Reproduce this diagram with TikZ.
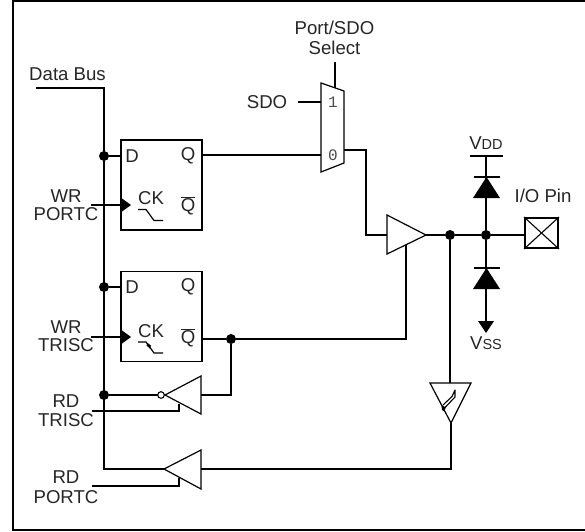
\documentclass[tikz,border=0pt]{standalone}
\usepackage{fontspec}
\setmainfont{Liberation Sans}
\newfontfamily\monof{Liberation Mono}
\tikzset{
  wire/.style={line width=1.8pt},
  junction/.style={circle,fill=black,inner sep=0pt,minimum size=10pt},
  lbl/.style={font=\fontsize{18.6}{20}\selectfont,inner sep=0pt,text=black!85,anchor=center},
  mlbl/.style={font=\monof\fontsize{16}{18}\selectfont,inner sep=0pt,text=black!70,anchor=center},
  ffbox/.style={draw,line width=1.8pt,minimum width=81pt,minimum height=90pt,inner sep=0pt,anchor=north west},
  pinbox/.style={draw,line width=1.8pt,minimum width=33pt,minimum height=30pt,inner sep=0pt,anchor=center},
  gate/.style={draw,line width=1.2pt,fill=white,line join=miter},
}
\begin{document}
\begin{tikzpicture}[x=1pt,y=-1pt]
\useasboundingbox (0,0) rectangle (585,531);
\fill[white] (0,0) rectangle (585,531);
\draw[line width=2pt] (585,1) -- (13,1) -- (13,530) -- (585,530);

% flip-flops
\node[ffbox] (ffa) at (120,139) {};
\node[ffbox] (ffb) at (120,270.5) {};

% junctions
\node[junction] (j1) at (104,156) {};
\node[junction] (j2) at (104,287) {};
\node[junction] (j3) at (104,395) {};
\node[junction] (j4) at (231,339) {};
\node[junction] (j5) at (450,235) {};
\node[junction] (j6) at (486,235) {};

% coordinates
\coordinate (busstart) at (36,88);
\coordinate (buscorner) at (104,88);
\coordinate (busend) at (104,469);
\coordinate (bufrtip) at (164,469);
\coordinate (bufrbase) at (201,469);
\coordinate (rdpcorner) at (451,469);
\coordinate (sttip) at (451,423);
\coordinate (stbase) at (450,383);
\coordinate (ffaD) at (120,156);
\coordinate (ffbD) at (120,287);
\coordinate (ffaQ) at (201,155);
\coordinate (ffbQ) at (201,339);
\coordinate (muxin0) at (321,155);
\coordinate (muxin1) at (321,102);
\coordinate (sdostart) at (298,102);
\coordinate (selstart) at (335,62);
\coordinate (selend) at (335,88);
\coordinate (muxout) at (344,150);
\coordinate (c1) at (366,150);
\coordinate (c2) at (366,235);
\coordinate (drvin) at (387,235);
\coordinate (drvtip) at (426,235);
\coordinate (drven) at (406,245);
\coordinate (c3) at (406,339);
\coordinate (c4) at (231,395);
\coordinate (trbase) at (201,395);
\coordinate (bubble) at (161,395);
\coordinate (wrpa) at (91,205);
\coordinate (wrpb) at (120,205);
\coordinate (wrta) at (91,337);
\coordinate (wrtb) at (120,337);
\coordinate (rdta) at (92,411);
\coordinate (rdtb) at (179,411);
\coordinate (rdtc) at (179,404);
\coordinate (rdpa) at (92,486);
\coordinate (rdpb) at (179,486);
\coordinate (rdpc) at (179,478);
\coordinate (vddl) at (470,156);
\coordinate (vddr) at (503,156);
\coordinate (vddm) at (486,156);
\coordinate (vssend) at (486,322);

% wires
\draw[wire] (busstart) -- (buscorner) -- (busend) -- (bufrtip);
\draw[wire] (j1) -- (ffaD);
\draw[wire] (j2) -- (ffbD);
\draw[wire] (ffaQ) -- (muxin0);
\draw[wire] (sdostart) -- (muxin1);
\draw[wire] (selstart) -- (selend);
\draw[wire] (muxout) -- (c1) -- (c2) -- (drvin);
\draw[wire] (drvtip) -- (j5) -- (j6);
\draw[wire] (ffbQ) -- (j4) -- (c3) -- (drven);
\draw[wire] (j4) -- (c4) -- (trbase);
\draw[wire] (j3) -- (bubble);
\draw[wire] (bufrbase) -- (rdpcorner) -- (sttip);
\draw[wire] (stbase) -- (j5);
\draw[wire] (wrpa) -- (wrpb);
\draw[wire] (wrta) -- (wrtb);
\draw[wire] (rdta) -- (rdtb) -- (rdtc);
\draw[wire] (rdpa) -- (rdpb) -- (rdpc);
\draw[wire] (vddl) -- (vddr);
\draw[wire] (vddm) -- (j6);
\draw[wire] (j6) -- (vssend);

% gates
\draw[gate] (201,376) -- (165,395) -- (201,414) -- cycle;
\draw[gate] (201,450) -- (164,469) -- (201,489) -- cycle;
\draw[gate] (387,215) -- (426,235) -- (387,254) -- cycle;
\draw[gate] (430,383) -- (471,383) -- (451,423) -- cycle;
\draw[gate] (321,83) -- (344,91) -- (344,163) -- (321,172) -- cycle;
\draw[line width=1.1pt,fill=white] (bubble) circle (3.3pt);
% Schmitt glyph
\draw[line width=1.1pt,line join=round] (443,405) -- (452,396.5) -- (455,390) -- (455,397) -- (445.5,407) -- (444,410);
\fill (441.5,405) -- (445,407) -- (444.5,411.5) -- (442,410) -- cycle;

% clock triangles
\fill (120,197) -- (131,205) -- (120,213) -- cycle;
\fill (120,329) -- (131,337) -- (120,345) -- cycle;
% clock waves
\draw[line width=1.2pt] (138,209.5) -- (146,209.5) -- (154,220.5) -- (163,220.5);
\draw[line width=1.2pt] (138,342) -- (146,342) -- (154,353) -- (163,353);
\fill (147.5,343) -- (151,345.5) -- (150,348.5) -- (146.5,345.5) -- cycle;

% diodes
\draw[wire] (474,177) -- (500,177);
\fill (486.5,177) -- (500,198) -- (473,198) -- cycle;
\draw[wire] (474,268) -- (500,268);
\fill (486.5,268) -- (500,289) -- (473,289) -- cycle;
\fill (478,321) -- (494,321) -- (486,333) -- cycle;

% pin
\node[pinbox] (pin) at (541.5,233) {};
\draw[line width=1.1pt] (pin.north west) -- (pin.south east);
\draw[line width=1.1pt] (pin.south west) -- (pin.north east);
\draw[wire] (j6) -- (pin.west |- j6);

% labels
\node[lbl] (tdb) at (67.5,74) {Data Bus};
\node[lbl] (tport) at (334.5,28) {Port/SDO};
\node[lbl] (tsel) at (334.5,48) {Select};
\node[lbl] (tsdo) at (267,102) {SDO};
\node[mlbl] (t1) at (333,102) {1};
\node[mlbl] (t0) at (333,155) {0};
\node[lbl] (dA) at (132,156) {D};
\node[lbl] (qA) at (188,156) {Q};
\node[lbl] (ckA) at (151,198.5) {CK};
\node[lbl] (nqA) at (188,206) {$\overline{\mbox{Q}}$};
\node[lbl] (dB) at (132,287) {D};
\node[lbl] (qB) at (188,287) {Q};
\node[lbl] (ckB) at (151,331) {CK};
\node[lbl] (nqB) at (188,338) {$\overline{\mbox{Q}}$};
\node[lbl] (wr1) at (66,196) {WR};
\node[lbl] (pc1) at (66,214) {PORTC};
\node[lbl] (wr2) at (66,327) {WR};
\node[lbl] (tr1) at (66,345) {TRISC};
\node[lbl] (rd1) at (66,401) {RD};
\node[lbl] (tr2) at (66,420) {TRISC};
\node[lbl] (rd2) at (66,477) {RD};
\node[lbl] (pc2) at (66,497) {PORTC};
\node[lbl] (vdd) at (486,143) {V{\fontsize{14.5}{16}\selectfont DD}};
\node[lbl] (vss) at (486,343) {V{\fontsize{14.5}{16}\selectfont SS}};
\node[lbl] (iop) at (543,195.5) {I/O Pin};
\end{tikzpicture}
\end{document}
